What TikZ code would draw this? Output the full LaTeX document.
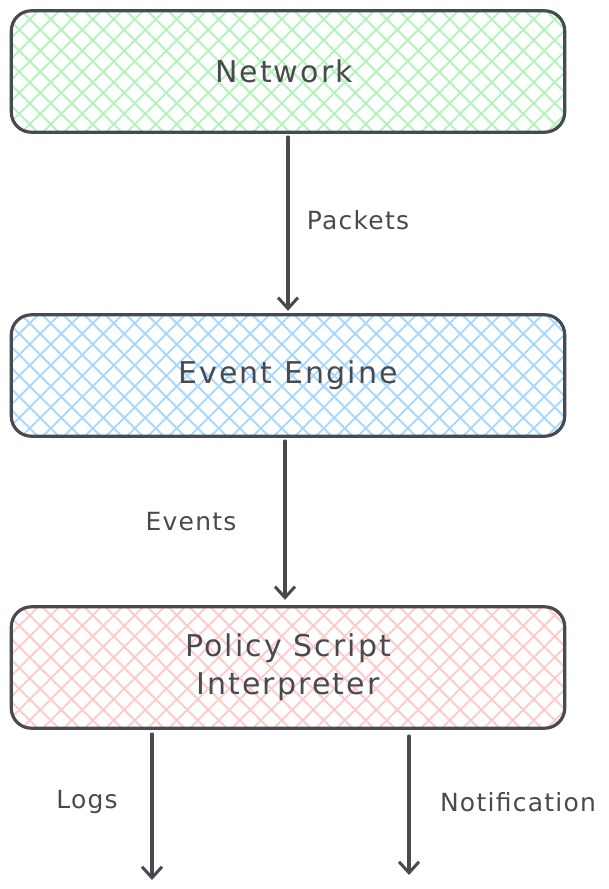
\documentclass[tikz,border=0pt]{standalone}
\usepackage{fontspec}
\setmainfont{DejaVu Sans}
\usetikzlibrary{arrows.meta}
\definecolor{stroke}{HTML}{474A4F}
\definecolor{hgreen}{HTML}{B2F2BB}
\definecolor{hblue}{HTML}{A5D8FF}
\definecolor{hred}{HTML}{FFC9C9}
\tikzset{
  block/.style={minimum width=553pt, minimum height=121pt, inner sep=0pt, align=center,
    text=stroke, font=\fontsize{30}{38}\selectfont\addfontfeatures{LetterSpace=7}},
  border/.style={draw=stroke, line width=3.2pt, rounded corners=20pt},
  hatchline/.style={draw=#1, line width=1.9pt},
  arr/.style={draw=stroke, line width=3.5pt, line cap=round,
    -{Straight Barb[length=11pt,width=20pt,line width=3pt]}},
  lbl/.style={text=stroke, font=\fontsize{25}{30}\selectfont\addfontfeatures{LetterSpace=5}, inner sep=0pt}
}
\newcommand\myhatch[2]{%
  \begin{scope}
    \clip[rounded corners=20pt] (#1.south west) rectangle (#1.north east);
    \foreach \c in {-160,-139,...,720} {
      \draw[hatchline=#2] ([xshift=\c pt,yshift=2pt]#1.north west) -- ++(130,130);
      \draw[hatchline=#2] ([xshift=\c pt,yshift=2pt]#1.north west) -- ++(-130,130);
    }
  \end{scope}
  \draw[border] (#1.south west) rectangle (#1.north east);}
\begin{document}
\begin{tikzpicture}[x=1pt,y=-1pt]
\useasboundingbox (0,0) rectangle (609,889);
\path (288,71.5) node[block] (net) {};
\path (288,375.5) node[block] (eng) {};
\path (288,667.5) node[block] (psi) {};
\myhatch{net}{hgreen}
\myhatch{eng}{hblue}
\myhatch{psi}{hred}
\node[block] (nett) at (284,71.5) {Network};
\node[block] (engt) at (eng) {Event Engine};
\node[block] (psit) at (psi) {Policy Script\\Interpreter};
\coordinate (logend) at (152,880);
\coordinate (notend) at (409,875);
\draw[arr] ([yshift=-5pt]net.south) -- ([yshift=4pt]eng.north);
\draw[arr] ([xshift=-3pt,yshift=-5pt]eng.south) -- ([xshift=-3pt,yshift=7pt]psi.north);
\draw[arr] ([xshift=-136pt,yshift=-6pt]psi.south) -- (logend);
\draw[arr] ([xshift=121pt,yshift=-8pt]psi.south) -- (notend);
\node[lbl] (lp) at (358,220) {Packets};
\node[lbl] (le) at (191,522) {Events};
\node[lbl] (ll) at (87,802) {Logs};
\node[lbl] (ln) at (518,802) {Notification};
\end{tikzpicture}
\end{document}
